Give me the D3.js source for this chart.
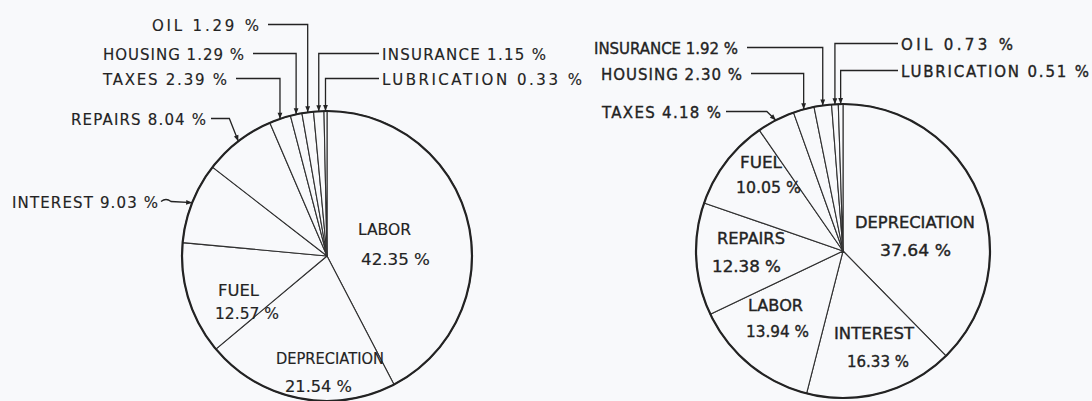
<!DOCTYPE html>
<html>
<head>
<meta charset="utf-8">
<script src="https://cdn.jsdelivr.net/npm/d3@7/dist/d3.min.js"></script>
<style>
  html, body { margin: 0; padding: 0; background: #f8f9fb; }
  svg { display: block; }
  text { font-family: "DejaVu Sans", "Liberation Sans", Arial, sans-serif; font-size: 15px; }
</style>
</head>
<body>
<svg id="chart" width="1092" height="401"></svg>
<script>
// ---------- DATA ----------
const leftCategories  = ["LABOR", "DEPRECIATION", "FUEL", "INTEREST", "REPAIRS", "TAXES", "HOUSING", "OIL", "INSURANCE", "LUBRICATION"];
const leftValues      = [42.35, 21.54, 12.57, 9.03, 8.04, 2.39, 1.29, 1.29, 1.15, 0.33];

const rightCategories = ["DEPRECIATION", "INTEREST", "LABOR", "REPAIRS", "FUEL", "TAXES", "HOUSING", "INSURANCE", "OIL", "LUBRICATION"];
const rightValues     = [37.64, 16.33, 13.94, 12.38, 10.05, 4.18, 2.30, 1.92, 0.73, 0.51];

// ---------- LAYOUT (positions only) ----------
const leftPie  = { cx: 327, cy: 256, r: 145 };
const rightPie = { cx: 843, cy: 251, r: 147 };

// inside: two lines (name, value); elbow/bend/wave: outer label with leader
const leftLayout = {
  LABOR:        { type: "inside", x: 358, w: 53,  y: 230, x2: 361, w2: 69, y2: 260 },
  DEPRECIATION: { type: "inside", x: 276, w: 108, y: 359, x2: 285, w2: 67, y2: 387 },
  FUEL:         { type: "inside", x: 218, w: 41,  y: 291, x2: 215, w2: 64, y2: 314 },
  INTEREST:     { type: "wave",   x: 12,  w: 146, y: 203 },
  REPAIRS:      { type: "bend",   x: 71,  w: 135, y: 120 },
  TAXES:        { type: "elbow", side: "left",  x: 103, w: 124, y: 80 },
  HOUSING:      { type: "elbow", side: "left",  x: 103, w: 141, y: 55 },
  OIL:          { type: "elbow", side: "left",  x: 152, w: 107, y: 26 },
  INSURANCE:    { type: "elbow", side: "right", x: 382, w: 164, y: 55 },
  LUBRICATION:  { type: "elbow", side: "right", x: 382, w: 200, y: 80 }
};
const rightLayout = {
  DEPRECIATION: { type: "inside", x: 855, w: 120, y: 223, x2: 880, w2: 71, y2: 251 },
  INTEREST:     { type: "inside", x: 834, w: 80,  y: 334, x2: 847, w2: 62, y2: 362 },
  LABOR:        { type: "inside", x: 748, w: 55,  y: 306, x2: 746, w2: 63, y2: 332 },
  REPAIRS:      { type: "inside", x: 717, w: 68,  y: 239, x2: 712, w2: 69, y2: 267 },
  FUEL:         { type: "inside", x: 740, w: 42,  y: 163, x2: 736, w2: 65, y2: 188 },
  TAXES:        { type: "bend",   x: 602, w: 119, y: 113 },
  HOUSING:      { type: "elbow", side: "left",  x: 601, w: 141, y: 75 },
  INSURANCE:    { type: "elbow", side: "left",  x: 594, w: 144, y: 49 },
  OIL:          { type: "elbow", side: "right", x: 901, w: 112, y: 45 },
  LUBRICATION:  { type: "elbow", side: "right", x: 901, w: 188, y: 72 }
};

// ---------- DRAW ----------
const svg = d3.select("#chart");
const BG = "#f8f9fb";
const INK = "#232323";

svg.append("rect").attr("width", 1092).attr("height", 401).attr("fill", BG);

const defs = svg.append("defs");
defs.append("marker")
  .attr("id", "arrow")
  .attr("viewBox", "0 0 10 10")
  .attr("refX", 10).attr("refY", 5)
  .attr("markerUnits", "userSpaceOnUse")
  .attr("markerWidth", 7).attr("markerHeight", 6)
  .attr("orient", "auto")
  .append("path").attr("d", "M0,1 L10,5 L0,9 Z").attr("fill", INK);

const fmt = v => v.toFixed(2) + " %";
const CAP = 5.4; // half cap height offset for 15px text

function drawPie(categories, values, geom, layout, textStroke) {
  const data = categories.map((c, i) => ({ name: c, value: values[i] }));
  const pie = d3.pie().sort(null).value(d => d.value).startAngle(0).endAngle(2 * Math.PI);
  const arcs = pie(data);
  const arc = d3.arc().innerRadius(0).outerRadius(geom.r);
  const edge = d3.arc().innerRadius(geom.r).outerRadius(geom.r);

  const g = svg.append("g").attr("transform", `translate(${geom.cx},${geom.cy})`);
  g.selectAll("path.slice").data(arcs).join("path")
    .attr("class", "slice")
    .attr("d", arc)
    .attr("fill", BG)
    .attr("stroke", "#303030")
    .attr("stroke-width", 1.1)
    .attr("stroke-linejoin", "round");
  g.append("circle").attr("r", geom.r).attr("fill", "none")
    .attr("stroke", INK).attr("stroke-width", 2.2);

  const labels = svg.append("g").attr("fill", INK)
    .attr("stroke", INK).attr("stroke-width", textStroke);

  arcs.forEach(a => {
    const L = layout[a.data.name];
    if (!L) return;
    const [ex, ey] = edge.centroid(a);
    const px = geom.cx + ex, py = geom.cy + ey;

    if (L.type === "inside") {
      labels.append("text").attr("x", L.x).attr("y", L.y + CAP)
        .attr("textLength", L.w).attr("lengthAdjust", "spacingAndGlyphs")
        .text(a.data.name);
      labels.append("text").attr("x", L.x2).attr("y", L.y2 + CAP)
        .attr("textLength", L.w2).attr("lengthAdjust", "spacingAndGlyphs")
        .text(fmt(a.data.value));
      return;
    }

    labels.append("text").attr("x", L.x).attr("y", L.y + CAP)
      .attr("textLength", L.w).attr("lengthAdjust", "spacing")
      .text(a.data.name + " " + fmt(a.data.value));

    const ly = L.y - 1.5;
    let d;
    if (L.type === "elbow" && L.side === "left") {
      d = `M${L.x + L.w + 9},${ly} H${px} V${py}`;
    } else if (L.type === "elbow") {
      d = `M${L.x - 3},${ly} H${px} V${py}`;
    } else if (L.type === "bend") {
      d = `M${L.x + L.w + 5},${ly} H${px - 9} L${px},${py}`;
    } else { // wave
      const sx = L.x + L.w + 3;
      d = `M${sx},${ly} q5,-4 10,0 L${px},${py}`;
    }
    svg.append("path").attr("d", d).attr("fill", "none")
      .attr("stroke", INK).attr("stroke-width", 1.3)
      .attr("marker-end", "url(#arrow)");
  });
}

drawPie(leftCategories, leftValues, leftPie, leftLayout, 0.15);
drawPie(rightCategories, rightValues, rightPie, rightLayout, 0.35);
</script>
</body>
</html>
